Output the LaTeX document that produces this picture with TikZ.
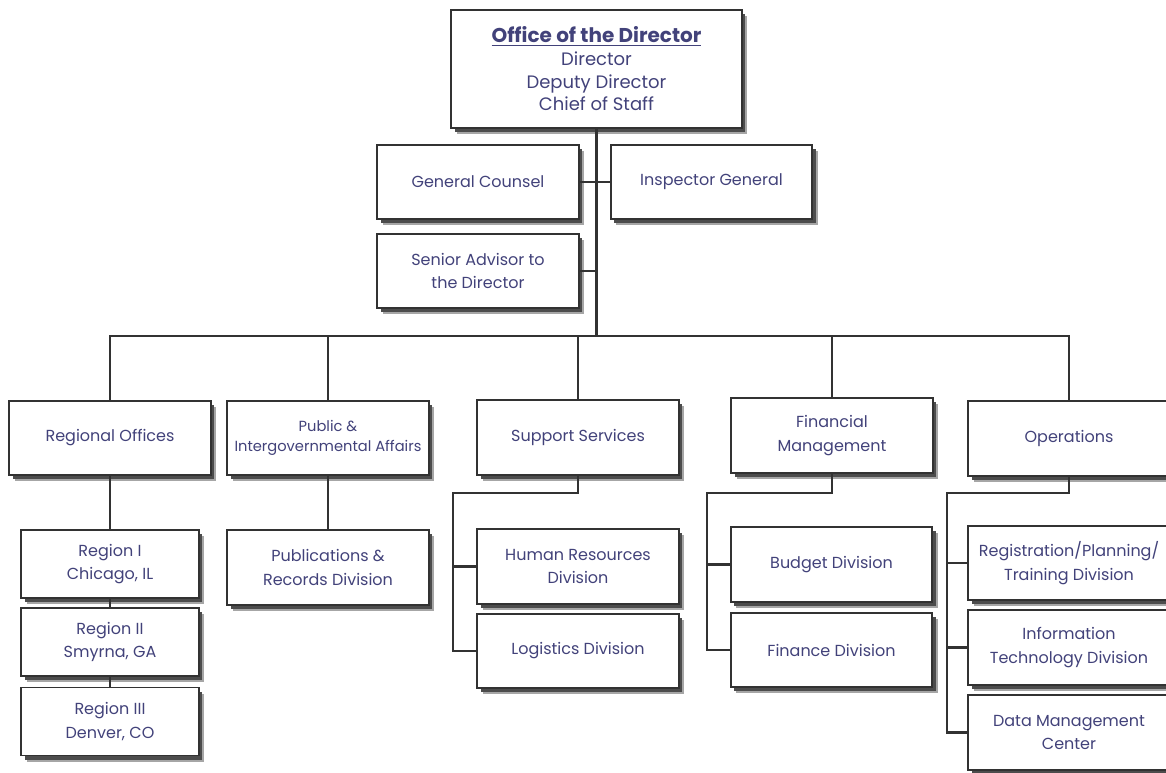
\documentclass[tikz,border=0pt]{standalone}
\usepackage{fontspec}
\setmainfont{Poppins}
\usetikzlibrary{shadows}

\definecolor{ink}{RGB}{66,66,122}
\definecolor{rule}{RGB}{50,50,50}

\tikzset{
  unit/.style={draw=rule, line width=1.3pt, fill=white, align=center,
    text=ink, font=\fontsize{12}{17.5}\selectfont,
    drop shadow={shadow xshift=4pt, shadow yshift=-4.5pt, opacity=1, fill=black!35},
    drop shadow={shadow xshift=2.5pt, shadow yshift=-3pt, opacity=1, fill=black!70},
    minimum width=151pt, minimum height=56pt, inner sep=2pt},
  region/.style={unit, minimum width=133pt, minimum height=51pt},
  small/.style={font=\fontsize{11}{15}\selectfont},
  link/.style={draw=rule, line width=1.6pt},
}

\begin{document}
\begin{tikzpicture}[
    x = 0.75pt,
    y = -0.75pt,
    ]
    \useasboundingbox (0,0) rectangle (1166,772);
    % top office
    \node[unit, minimum width=218pt, minimum height=88pt,
      font=\fontsize{13.5}{17}\selectfont] (director) at (596.5, 69)
    {{\fontsize{15}{17}\selectfont\bfseries\underline{Office of the Director}}\\
      Director\\Deputy Director\\Chief of Staff};
    % staff offices
    \node[unit] (counsel) at (478, 182) {General Counsel};
    \node[unit] (inspector) at (711.5, 182) {Inspector General};
    \node[unit] (advisor) at (478, 271) {Senior Advisor to\\the Director};
    % divisions
    \node[unit] (regional) at (110, 438) {Regional Offices};
    \node[unit, small] (public) at (328, 438) {Public \&\\Intergovernmental Affairs};
    \node[unit] (support) at (578, 437.5) {Support Services};
    \node[unit] (financial) at (832, 435.5) {Financial\\Management};
    \node[unit] (operations) at (1069, 438.5) {Operations};
    % regions
    \node[region] (region1) at (110, 564) {Region I\\Chicago, IL};
    \node[region] (region2) at (110, 642) {Region II\\Smyrna, GA};
    \node[region] (region3) at (110, 721.5) {Region III\\Denver, CO};
    % sub units
    \node[unit] (publications) at (328, 567.5) {Publications \&\\Records Division};
    \node[unit] (hr) at (578, 566.5) {Human Resources\\Division};
    \node[unit] (logistics) at (578, 651) {Logistics Division};
    \node[unit] (budget) at (831.5, 564.5) {Budget Division};
    \node[unit] (finance) at (831.5, 650) {Finance Division};
    \node[unit] (registration) at (1069, 563) {Registration/Planning/\\Training Division};
    \node[unit] (infotech) at (1069, 647.5) {Information\\Technology Division};
    \node[unit] (datamgmt) at (1069, 732.5) {Data Management\\Center};
    % trunk and bus
    \coordinate (bus) at (596.5, 336);
    \draw[link] (director) -- (bus);
    \draw[link] (counsel) -- (inspector);
    \draw[link] (advisor.east) -- (advisor.east -| bus);
    \draw[link] (regional.north) |- (bus) -| (operations.north);
    \foreach \unit in {public, support, financial}
    \draw[link] (\unit.north) -- (\unit.north |- bus);
    % regions
    \draw[link] (regional) -- (region1);
    \draw[link] (region1) -- (region2);
    \draw[link] (region2) -- (region3);
    \draw[link] (public) -- (publications);
    % branch lines
    \foreach \head/\first/\last/\x in {support/hr/logistics/453,
      financial/budget/finance/707, operations/registration/datamgmt/947} {
      \coordinate (\head-bend) at (\x, 493);
      \draw[link] (\head.south) |- (\head-bend) |- (\last.west);
      \draw[link] (\first.west) -- (\first.west -| \head-bend);
    }
    \draw[link] (infotech.west) -- (infotech.west -| operations-bend);
\end{tikzpicture}
\end{document}
